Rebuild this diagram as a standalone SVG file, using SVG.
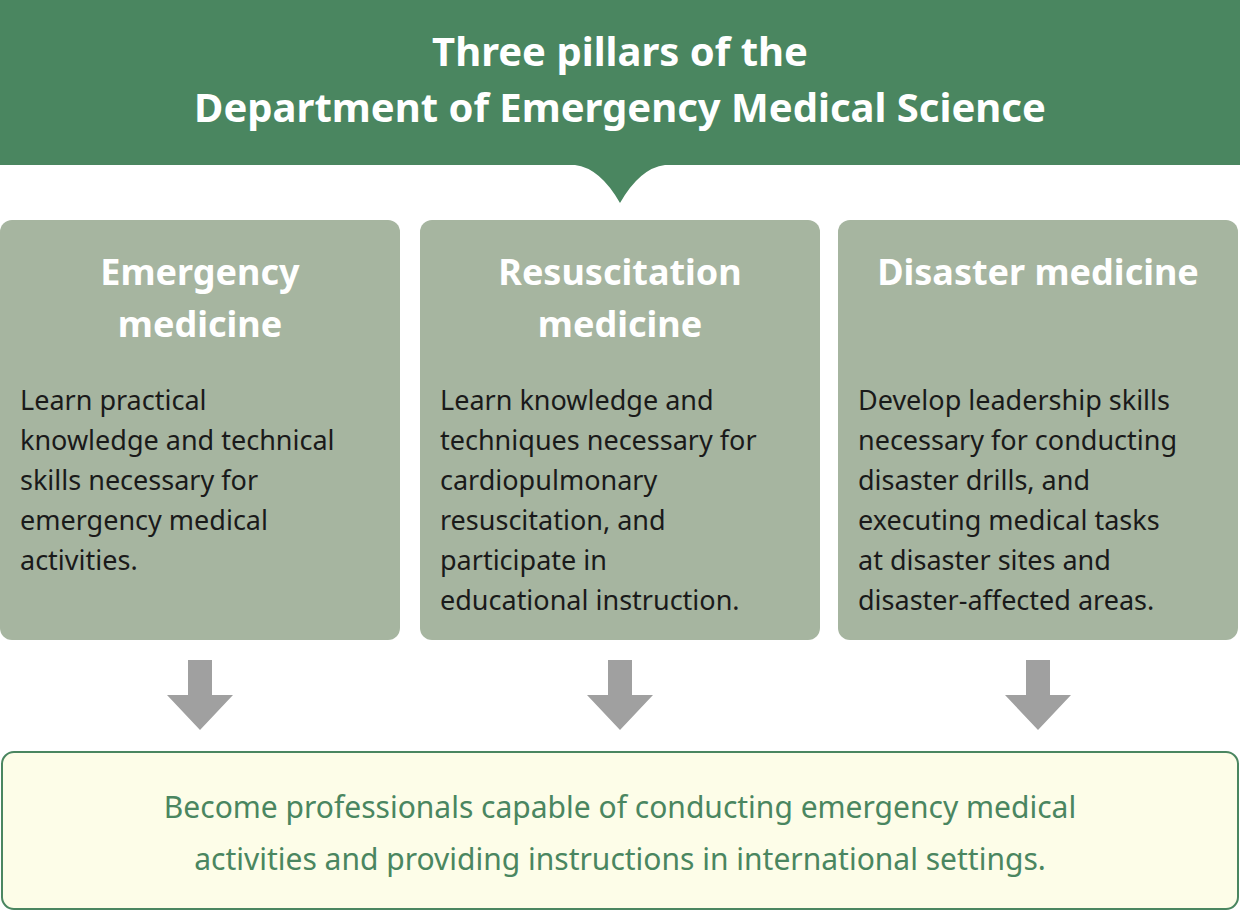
<svg xmlns="http://www.w3.org/2000/svg" width="1240" height="911" viewBox="0 0 1240 911">
<style>
.hd{font-family:"Noto Sans","Liberation Sans",sans-serif;font-weight:bold;fill:#fff;text-anchor:middle}
.tt{font-family:"Noto Sans","Liberation Sans",sans-serif;font-weight:bold;fill:#fff;font-size:36px;text-anchor:middle}
.bd{font-family:"Noto Sans","Liberation Sans",sans-serif;fill:#1a1a1a;font-size:27px}
.ft{font-family:"Noto Sans","Liberation Sans",sans-serif;fill:#4a8660;font-size:30px;text-anchor:middle}
.box{fill:#a6b5a0}
.arr{fill:#a0a0a0}
</style>
<rect width="1240" height="911" fill="#fff"/>
<g id="header">
<path d="M0 0H1240V165H665Q640 168 620 203Q600 168 575 165H0Z" fill="#4a8660"/>
<text class="hd" x="620" y="66" font-size="40">Three pillars of the</text>
<text class="hd" x="620" y="122" font-size="40">Department of Emergency Medical Science</text>
</g>
<g id="emergency">
<rect class="box" x="0" y="220" width="400" height="420" rx="12"/>
<text class="tt" x="200" y="285">Emergency</text>
<text class="tt" x="200" y="337">medicine</text>
<text class="bd" x="20" y="410">Learn practical</text>
<text class="bd" x="20" y="450">knowledge and technical</text>
<text class="bd" x="20" y="490">skills necessary for</text>
<text class="bd" x="20" y="530">emergency medical</text>
<text class="bd" x="20" y="570">activities.</text>
</g>
<g id="resuscitation">
<rect class="box" x="420" y="220" width="400" height="420" rx="12"/>
<text class="tt" x="620" y="285">Resuscitation</text>
<text class="tt" x="620" y="337">medicine</text>
<text class="bd" x="440" y="410">Learn knowledge and</text>
<text class="bd" x="440" y="450">techniques necessary for</text>
<text class="bd" x="440" y="490">cardiopulmonary</text>
<text class="bd" x="440" y="530">resuscitation, and</text>
<text class="bd" x="440" y="570">participate in</text>
<text class="bd" x="440" y="610">educational instruction.</text>
</g>
<g id="disaster">
<rect class="box" x="838" y="220" width="400" height="420" rx="12"/>
<text class="tt" x="1038" y="285">Disaster medicine</text>
<text class="bd" x="858" y="410">Develop leadership skills</text>
<text class="bd" x="858" y="450">necessary for conducting</text>
<text class="bd" x="858" y="490">disaster drills, and</text>
<text class="bd" x="858" y="530">executing medical tasks</text>
<text class="bd" x="858" y="570">at disaster sites and</text>
<text class="bd" x="858" y="610">disaster-affected areas.</text>
</g>
<g id="connectors">
<path class="arr" d="M188 660H212V695H233L200 730L167 695H188Z"/>
<path class="arr" d="M608 660H632V695H653L620 730L587 695H608Z"/>
<path class="arr" d="M1026 660H1050V695H1071L1038 730L1005 695H1026Z"/>
</g>
<g id="goal">
<rect x="2" y="752" width="1236" height="157" rx="12" fill="#fdfde8" stroke="#4a8660" stroke-width="2"/>
<text class="ft" x="620" y="818">Become professionals capable of conducting emergency medical</text>
<text class="ft" x="620" y="870">activities and providing instructions in international settings.</text>
</g>
</svg>
